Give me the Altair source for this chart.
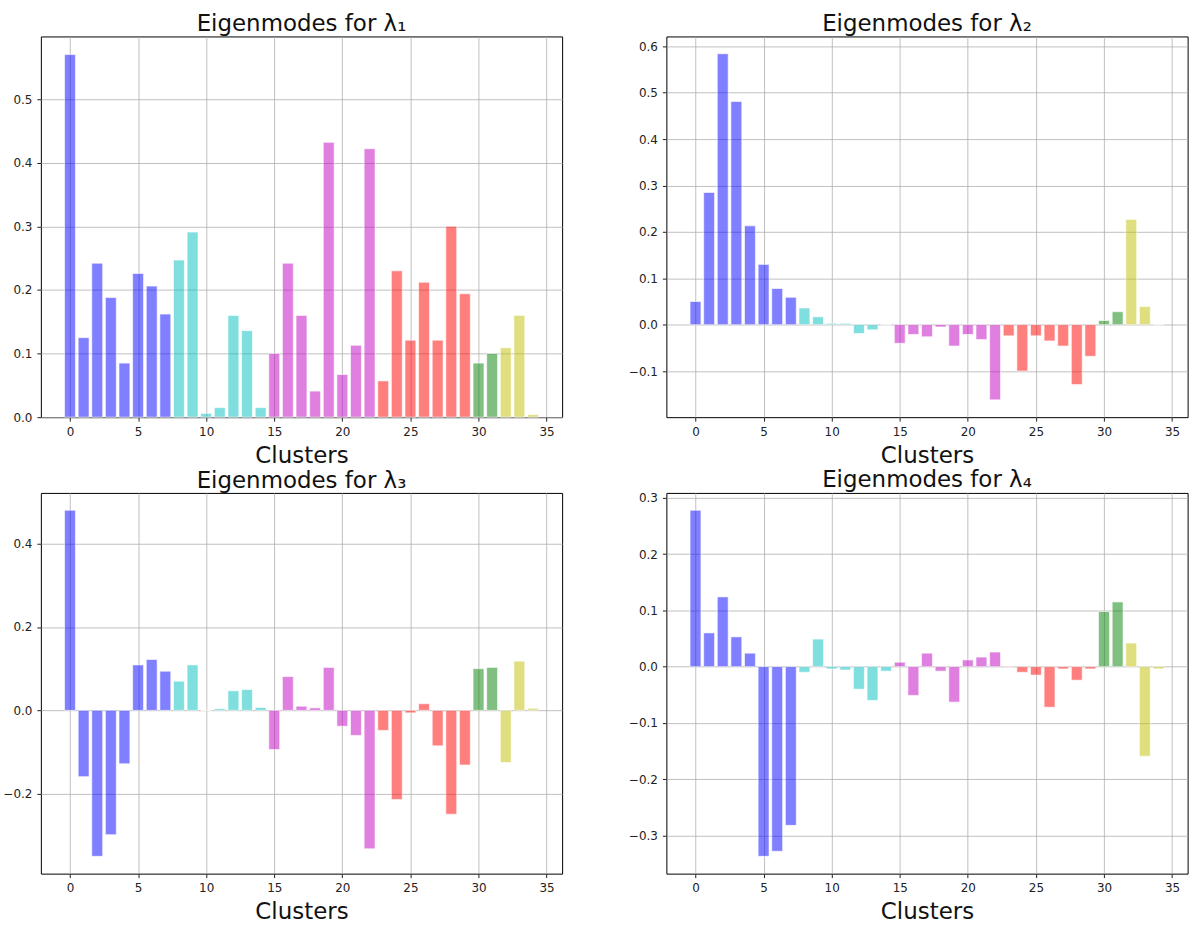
import altair as alt
import pandas as pd

clusters = list(range(35))
groups = ["b"] * 8 + ["c"] * 7 + ["m"] * 8 + ["r"] * 7 + ["g"] * 2 + ["y"] * 3
group_domain = ["b", "c", "m", "r", "g", "y"]
group_colors = ["#0000ff", "#00bfbf", "#bf00bf", "#ff0000", "#008000", "#bfbf00"]

mode1 = [0.570, 0.125, 0.242, 0.188, 0.085, 0.226, 0.206, 0.162, 0.247, 0.291,
         0.006, 0.015, 0.160, 0.136, 0.015, 0.100, 0.242, 0.160, 0.041, 0.432,
         0.067, 0.113, 0.422, 0.057, 0.230, 0.121, 0.212, 0.121, 0.300, 0.194,
         0.085, 0.100, 0.109, 0.160, 0.004]
mode2 = [0.050, 0.285, 0.584, 0.481, 0.213, 0.130, 0.078, 0.059, 0.036, 0.017,
         0.003, 0.003, -0.019, -0.011, 0.0, -0.040, -0.021, -0.026, -0.005, -0.046,
         -0.021, -0.032, -0.162, -0.024, -0.100, -0.024, -0.035, -0.046, -0.129, -0.068,
         0.009, 0.028, 0.227, 0.039, 0.0]
mode3 = [0.480, -0.159, -0.350, -0.298, -0.128, 0.109, 0.122, 0.094, 0.070, 0.109,
         0.0, 0.004, 0.047, 0.050, 0.007, -0.094, 0.081, 0.010, 0.006, 0.103,
         -0.038, -0.060, -0.332, -0.048, -0.214, -0.006, 0.016, -0.085, -0.249, -0.131,
         0.100, 0.103, -0.125, 0.118, 0.005]
mode4 = [0.278, 0.060, 0.124, 0.053, 0.024, -0.337, -0.328, -0.282, -0.010, 0.049,
         -0.004, -0.006, -0.040, -0.060, -0.008, 0.008, -0.051, 0.024, -0.008, -0.063,
         0.012, 0.017, 0.026, -0.001, -0.010, -0.015, -0.072, -0.004, -0.024, -0.004,
         0.098, 0.115, 0.042, -0.159, -0.004]

titles = ["Eigenmodes for λ₁", "Eigenmodes for λ₂", "Eigenmodes for λ₃", "Eigenmodes for λ₄"]
y_ticks = [
    [0.0, 0.1, 0.2, 0.3, 0.4, 0.5],
    [-0.1, 0.0, 0.1, 0.2, 0.3, 0.4, 0.5, 0.6],
    [-0.2, 0.0, 0.2, 0.4],
    [-0.3, -0.2, -0.1, 0.0, 0.1, 0.2, 0.3],
]
x_ticks = [0, 5, 10, 15, 20, 25, 30, 35]

PW, PH = 523, 382


def ydom(vals):
    lo = min(min(vals), 0.0)
    hi = max(max(vals), 0.0)
    span = hi - lo
    lo_d = lo if lo == 0 else lo - 0.05 * span
    hi_d = hi + 0.05 * span
    return [lo_d, hi_d]


def panel(vals, title, yt):
    df = pd.DataFrame({"cluster": clusters, "value": vals, "group": groups})
    return (
        alt.Chart(df, title=alt.Title(title, baseline="bottom", offset=-23))
        .transform_calculate(x0="datum.cluster - 0.4", x1="datum.cluster + 0.4")
        .mark_bar(fillOpacity=0.5, stroke="white", strokeWidth=1, strokeOpacity=0.6)
        .encode(
            x=alt.X("x0:Q",
                    scale=alt.Scale(domain=[-2.14, 36.14], nice=False, zero=False),
                    axis=alt.Axis(values=x_ticks, format="d", title="Clusters")),
            x2="x1:Q",
            y=alt.Y("value:Q", stack=None,
                    scale=alt.Scale(domain=ydom(vals), nice=False, zero=False),
                    axis=alt.Axis(values=yt, format=".1f", title=None)),
            y2=alt.datum(0),
            color=alt.Color("group:N",
                            scale=alt.Scale(domain=group_domain, range=group_colors),
                            legend=None),
        )
        .properties(width=PW, height=PH)
    )


charts = [panel(v, t, yt) for v, t, yt in zip([mode1, mode2, mode3, mode4], titles, y_ticks)]

chart = (
    alt.concat(*charts, columns=2, spacing={"row": 76, "column": 104.6}, bounds="flush")
    .resolve_scale(x="independent", y="independent")
    .properties(padding={"left": 2, "top": 11, "right": 3, "bottom": 5})
    .configure_view(stroke="black", strokeWidth=1)
    .configure_axis(
        labelFont="DejaVu Sans", labelFontSize=12, labelColor="#222222",
        tickColor="#222222", tickSize=4, labelPadding=5, domain=False,
        grid=True, gridColor="#b0b0b0", gridWidth=0.8,
        titleFont="DejaVu Sans", titleFontSize=23, titleFontWeight="normal",
        titleColor="#111111", titlePadding=7, zindex=1,
    )
    .configure_title(font="DejaVu Sans", fontSize=23, fontWeight="normal",
                     color="#111111", anchor="middle")
)

chart.save("out.html", embed_options={"renderer": "svg", "actions": False})
